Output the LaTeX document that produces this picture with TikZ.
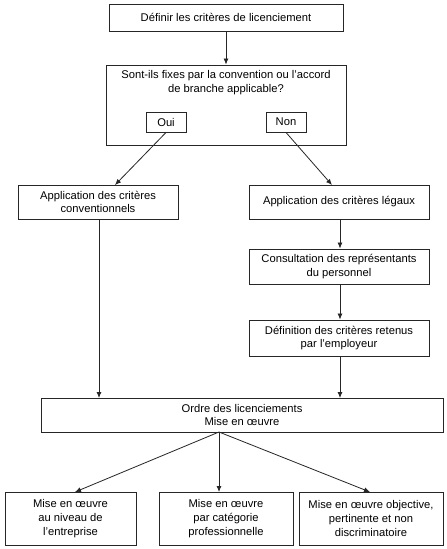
\documentclass[tikz,border=0pt]{standalone}
\usepackage{fontspec}
\setmainfont{Liberation Sans}
\usetikzlibrary{arrows.meta}
\begin{document}
\begin{tikzpicture}[x=1pt,y=-1pt,
  box/.style={draw=black!85,line width=0.9pt,rectangle,inner sep=0pt,align=center,font=\fontsize{11.2}{13.6}\selectfont},
  txt/.style={inner sep=0pt,align=center,font=\fontsize{11.2}{13.8}\selectfont},
  arr/.style={draw=black!85,line width=0.8pt,-{Latex[length=6pt,width=5pt]}}]
\useasboundingbox (0,0) rectangle (447,549);
\fill[white] (0,0) rectangle (447,549);
\node[box,minimum width=234pt,minimum height=27pt] (b1) at (226,17.5) {Définir les critères de licenciement};
\node[box,minimum width=240pt,minimum height=80pt] (b2) at (226,105) {};
\node[txt] (q) at (226,83) {Sont-ils fixes par la convention ou l'accord\\de branche applicable?};
\node[box,minimum width=40pt,minimum height=20pt] (oui) at (166,122) {Oui};
\node[box,minimum width=40pt,minimum height=20pt] (non) at (286,122) {Non};
\node[box,minimum width=160pt,minimum height=34pt] (b3) at (98,202) {Application des critères\\conventionnels};
\node[box,minimum width=180pt,minimum height=34pt] (b4) at (339,202) {Application des critères légaux};
\node[box,minimum width=180pt,minimum height=35pt] (b5) at (339,266.5) {Consultation des représentants\\du personnel};
\node[box,minimum width=180pt,minimum height=36pt] (b6) at (339,338) {Définition des critères retenus\\par l'employeur};
\node[box,minimum width=402pt,minimum height=34pt] (b7) at (242,415) {Ordre des licenciements\\Mise en œuvre};
\node[box,minimum width=131pt,minimum height=53pt] (b8) at (70.5,518.5) {Mise en œuvre\\au niveau de\\l'entreprise};
\node[box,minimum width=134pt,minimum height=53pt] (b9) at (226,518.5) {Mise en œuvre\\par catégorie\\professionnelle};
\node[box,minimum width=144pt,minimum height=53pt] (b10) at (371,518.5) {Mise en œuvre objective,\\pertinente et non\\discriminatoire};
\coordinate (b3in) at (115,185);
\coordinate (b4in) at (332,185);
\coordinate (b3out) at (99,219);
\coordinate (b7inl) at (99,398);
\coordinate (b6out) at (340,356);
\coordinate (b7inr) at (340,398);
\coordinate (b7out) at (219,432);
\coordinate (b8in) at (75,492);
\coordinate (b9in) at (219,492);
\coordinate (b10in) at (370,492);
\draw[arr] (b1.south) -- (b2.north);
\draw[arr] (oui.south) -- (b3in);
\draw[arr] (non.south) -- (b4in);
\draw[arr] (b4.south -| b6out) -- (b5.north -| b6out);
\draw[arr] (b5.south -| b6out) -- (b6.north -| b6out);
\draw[arr] (b3out) -- (b7inl);
\draw[arr] (b6out) -- (b7inr);
\draw[arr] (b7out) -- (b8in);
\draw[arr] (b7out) -- (b9in);
\draw[arr] (b7out) -- (b10in);
\end{tikzpicture}
\end{document}
